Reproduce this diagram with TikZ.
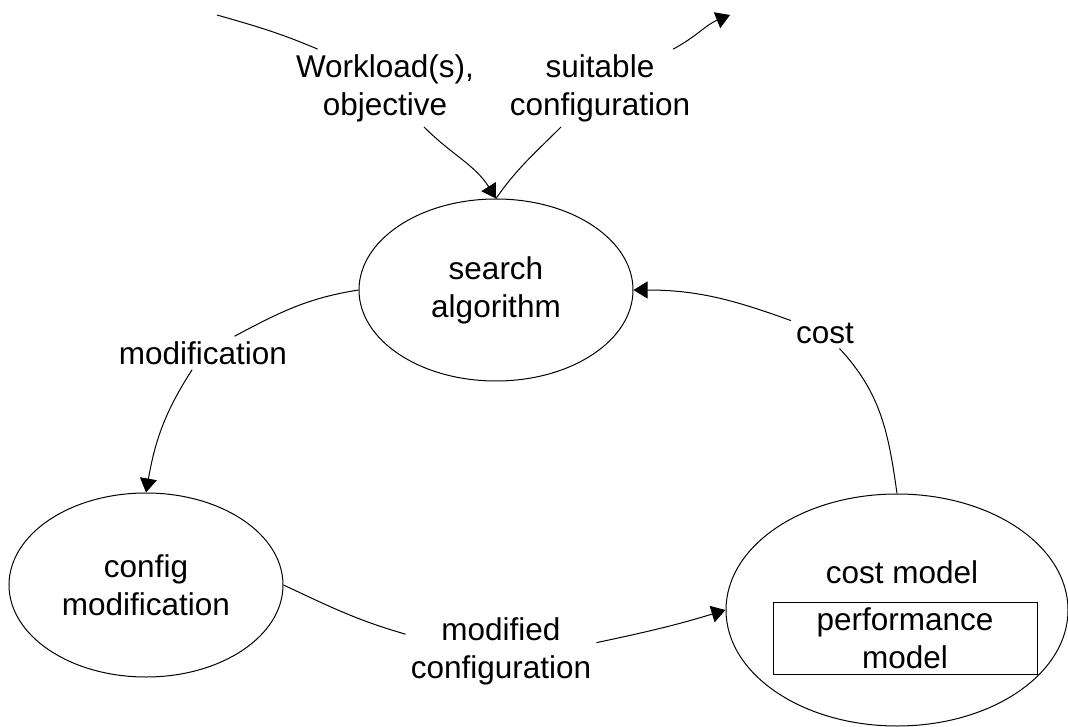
\documentclass[tikz,border=0pt]{standalone}
\usepackage{fontspec}
\setmainfont{Liberation Sans}
\usetikzlibrary{shapes.geometric,arrows.meta}
\tikzstyle{every node}=[font=\fontsize{31.5}{38}\selectfont,align=center]
\tikzstyle{process}=[draw=black,ellipse,line width=1pt,inner sep=0pt]
\tikzstyle{model}=[draw=black,rectangle,line width=1pt,inner sep=0pt,minimum width=264pt,minimum height=72pt]
\tikzstyle{edgelabel}=[inner sep=5pt]
\tikzstyle{flow}=[line width=1pt,-{Triangle[length=14pt,width=17pt]}]
\tikzstyle{plain}=[line width=1pt]

\begin{document}
\begin{tikzpicture}[x=1pt,y=1pt]
    \useasboundingbox (0,0) rectangle (1068,-727);
    % the three processes
    \node[process,minimum width=274pt,minimum height=182pt] (search) at (496,-290) {search\\algorithm};
    \node[process,minimum width=274pt,minimum height=184pt] (config) at (146,-585) {config\\modification};
    \node[process,minimum width=342pt,minimum height=232pt] (cost) at (897,-610) {};
    \node (costname) at (902,-572) {cost model};
    \node[model] (perf) at (905,-638) {performance\\model};
    % labels on the connectors
    \node[edgelabel] (input) at (385,-88) {Workload(s),\\objective};
    \node[edgelabel] (output) at (600,-88) {suitable\\configuration};
    \node[edgelabel] (modif) at (203,-353) {modification};
    \node[edgelabel] (modconf) at (501,-651) {modified\\configuration};
    \node[edgelabel] (costlbl) at (825,-333) {cost};
    \coordinate (instart) at (217,-15);
    \coordinate (outend) at (730,-15);
    % connectors
    \draw[plain] (instart) to[out=-16,in=157] (input.150);
    \draw[flow] (input.-45) to[out=-45,in=122] (search.north);
    \draw[plain] (search.north) to[out=55,in=-135] (output.-135);
    \draw[flow] (output.28) to[out=28,in=-158] (outend);
    \draw[plain] (search.west) to[out=189,in=28] (modif.28);
    \draw[flow] (modif.237) to[out=237,in=80] (config.north);
    \draw[plain] (config.east) to[out=-25,in=164] (modconf.170);
    \draw[flow] (modconf.5) to[out=12,in=197] (cost.west);
    \draw[plain] (cost.north) to[out=98,in=-47] (costlbl.-47);
    \draw[flow] (costlbl.160) to[out=160,in=0] (search.east);
\end{tikzpicture}
\end{document}
